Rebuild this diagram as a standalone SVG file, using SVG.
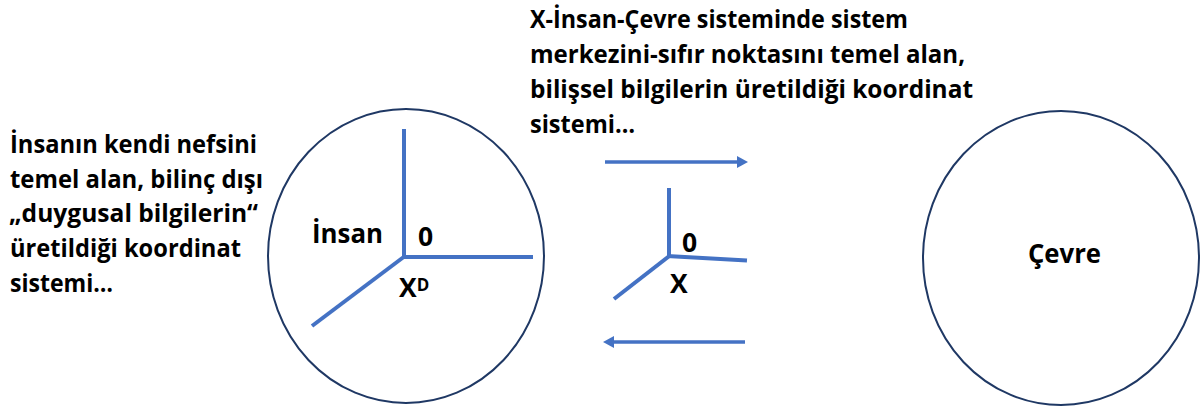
<svg xmlns="http://www.w3.org/2000/svg" width="1201" height="406" viewBox="0 0 1201 406">
  <style>
    .t { font-family: "Open Sans", "Lato", "DejaVu Sans", sans-serif; font-weight: 700; font-size: 25.5px; fill: #000; }
    .lbl { font-size: 26.5px; }
    .sup { font-size: 17px; }
    .ring { fill: #fff; stroke: #1F3864; stroke-width: 2; }
    .axis { stroke: #4472C4; stroke-width: 4; fill: none; }
    .flow { stroke: #4472C4; stroke-width: 3.5; fill: none; marker-end: url(#arrow); }
  </style>
  <defs>
    <marker id="arrow" viewBox="0 0 11 12" markerWidth="11" markerHeight="12" markerUnits="userSpaceOnUse" refX="3" refY="6" orient="auto">
      <path d="M0,0 L11,6 L0,12 z" fill="#4472C4"/>
    </marker>
  </defs>
  <rect width="1201" height="406" fill="#fff"/>

  <g id="note-left">
    <text class="t" x="10" y="153" textLength="247" lengthAdjust="spacingAndGlyphs">İnsanın kendi nefsini</text>
    <text class="t" x="10" y="188" textLength="253" lengthAdjust="spacingAndGlyphs">temel alan, bilinç dışı</text>
    <text class="t" x="9" y="222" textLength="249" lengthAdjust="spacingAndGlyphs">„duygusal bilgilerin“</text>
    <text class="t" x="10" y="257" textLength="231" lengthAdjust="spacingAndGlyphs">üretildiği koordinat</text>
    <text class="t" x="10" y="292" textLength="103" lengthAdjust="spacingAndGlyphs">sistemi…</text>
  </g>

  <g id="note-top">
    <text class="t" x="530" y="28" textLength="378" lengthAdjust="spacingAndGlyphs">X-İnsan-Çevre sisteminde sistem</text>
    <text class="t" x="530" y="63" textLength="435" lengthAdjust="spacingAndGlyphs">merkezini-sıfır noktasını temel alan,</text>
    <text class="t" x="530" y="98" textLength="443" lengthAdjust="spacingAndGlyphs">bilişsel bilgilerin üretildiği koordinat</text>
    <text class="t" x="530" y="133" textLength="105" lengthAdjust="spacingAndGlyphs">sistemi…</text>
  </g>

  <g id="node-insan">
    <ellipse class="ring" cx="406" cy="256" rx="138" ry="147"/>
    <line class="axis" x1="404" y1="129" x2="404" y2="257"/>
    <line class="axis" x1="402" y1="257" x2="533" y2="257"/>
    <line class="axis" x1="405" y1="256" x2="312" y2="326"/>
    <text class="t lbl" x="312" y="243" textLength="71" lengthAdjust="spacingAndGlyphs">İnsan</text>
    <text class="t lbl" x="418" y="246">0</text>
    <text class="t lbl" x="399" y="297">X<tspan class="sup" dy="-6">D</tspan></text>
  </g>

  <g id="node-x">
    <line class="axis" x1="669" y1="188" x2="669" y2="257"/>
    <line class="axis" x1="667" y1="256" x2="747" y2="260.5"/>
    <line class="axis" x1="670" y1="255.5" x2="614" y2="299"/>
    <text class="t lbl" x="682" y="252">0</text>
    <text class="t lbl" x="670" y="293">X</text>
  </g>

  <g id="node-cevre">
    <ellipse class="ring" cx="1061" cy="258" rx="138" ry="147"/>
    <text class="t lbl" x="1028" y="263" textLength="73" lengthAdjust="spacingAndGlyphs">Çevre</text>
  </g>

  <g id="connectors">
    <line class="flow" x1="605" y1="162" x2="740" y2="162"/>
    <line class="flow" x1="745" y1="342" x2="611" y2="342"/>
  </g>
</svg>
